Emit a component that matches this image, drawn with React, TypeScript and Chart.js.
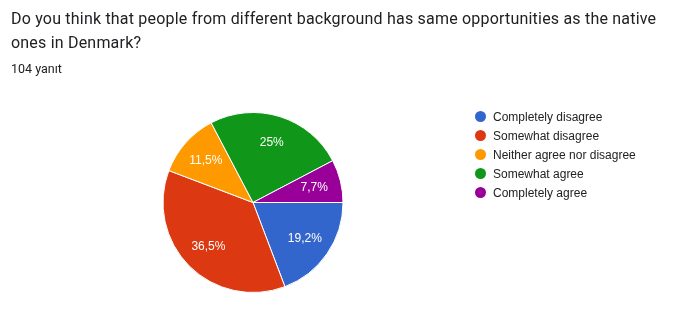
import React, { useEffect, useRef } from "react";
import { Chart, registerables } from "chart.js";

Chart.register(...registerables);

const title = "Do you think that people from different background has same opportunities as the native ones in Denmark?";
const subtitle = "104 yanıt";
const categories = ["Completely disagree", "Somewhat disagree", "Neither agree nor disagree", "Somewhat agree", "Completely agree"];
const counts = [20, 38, 12, 26, 8];
const percentLabels = ["19,2%", "36,5%", "11,5%", "25%", "7,7%"];
const colors = ["#3366CC", "#DC3912", "#FF9900", "#109618", "#990099"];

const sliceLabels = {
  id: "sliceLabels",
  afterDatasetsDraw(chart: any) {
    const ctx = chart.ctx;
    const meta = chart.getDatasetMeta(0);
    ctx.save();
    ctx.fillStyle = "#ffffff";
    ctx.font = "12px Arial, 'Liberation Sans', sans-serif";
    ctx.textAlign = "center";
    ctx.textBaseline = "middle";
    meta.data.forEach((arc: any, i: number) => {
      const p = arc.getProps(["x", "y", "startAngle", "endAngle", "outerRadius"], true);
      const mid = (p.startAngle + p.endAngle) / 2;
      const r = p.outerRadius * 0.7;
      ctx.fillText(percentLabels[i], p.x + Math.cos(mid) * r, p.y + Math.sin(mid) * r);
    });
    ctx.restore();
  },
};

export default function App() {
  const ref = useRef<HTMLCanvasElement>(null);
  useEffect(() => {
    if (!ref.current) return;
    const chart = new Chart(ref.current, {
      type: "pie",
      data: {
        labels: categories,
        datasets: [
          {
            data: counts,
            backgroundColor: colors,
            borderColor: "#ffffff",
            borderWidth: 1,
          },
        ],
      },
      options: {
        animation: false,
        responsive: false,
        rotation: 90,
        layout: { padding: { left: 162, right: 354, top: 112, bottom: 23 } },
        plugins: { legend: { display: false }, tooltip: { enabled: false } },
      },
      plugins: [sliceLabels],
    });
    return () => chart.destroy();
  }, []);

  return (
    <div style={{ position: "fixed", left: 0, top: 0, width: 698, height: 316, background: "#fff", overflow: "hidden" }}>
      <canvas ref={ref} width={698} height={316} style={{ position: "absolute", left: 0, top: 0, width: 698, height: 316 }} />
      <div
        style={{
          position: "absolute",
          left: 11,
          top: 7,
          width: 668,
          fontFamily: "Roboto, Arial, sans-serif",
          fontSize: 16,
          letterSpacing: "0.2px",
          lineHeight: "24px",
          color: "#202124",
        }}
      >
        {title}
      </div>
      <div
        style={{
          position: "absolute",
          left: 11,
          top: 61,
          fontFamily: "Roboto, Arial, sans-serif",
          fontSize: 12.5,
          lineHeight: "16px",
          color: "#202124",
        }}
      >
        {subtitle}
      </div>
      <div style={{ position: "absolute", left: 475, top: 107 }}>
        {categories.map((c, i) => (
          <div
            key={c}
            style={{
              display: "flex",
              alignItems: "center",
              height: 19,
              fontFamily: "Arial, 'Liberation Sans', sans-serif",
              fontSize: 12,
              color: "#222222",
              whiteSpace: "nowrap",
            }}
          >
            <span
              style={{
                display: "inline-block",
                width: 11,
                height: 11,
                borderRadius: "50%",
                background: colors[i],
                marginRight: 7,
              }}
            />
            {c}
          </div>
        ))}
      </div>
    </div>
  );
}
